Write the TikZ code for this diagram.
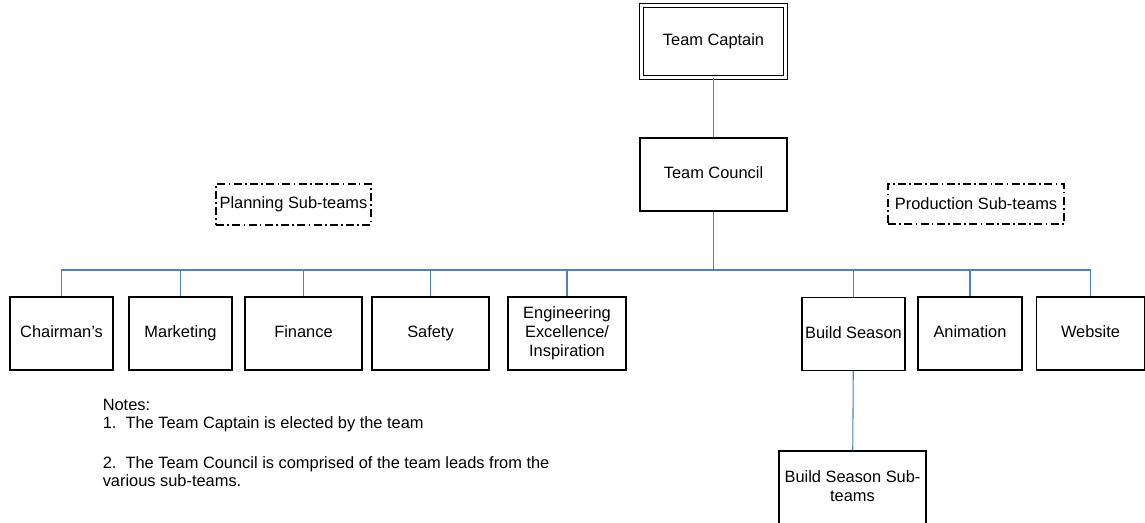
\documentclass[tikz,border=0pt]{standalone}
\usepackage{fontspec}
\setmainfont{Liberation Sans}
\usetikzlibrary{positioning}
\definecolor{linkblue}{HTML}{4F81BD}

\begin{document}
\begin{tikzpicture}[x=0.75pt, y=-0.75pt,
    box/.style={draw, rectangle, line width=0.9pt, minimum width=77.25pt, minimum height=54.75pt,
        inner sep=2pt, align=center, text depth=0.22em, font=\fontsize{12.3}{14.25}\selectfont},
    widebox/.style={box, minimum width=87.75pt},
    groupbox/.style={draw, rectangle, line width=0.8pt, dash pattern=on 6pt off 2.5pt on 1.2pt off 2.5pt,
        inner sep=2pt, font=\fontsize{12.3}{14.25}\selectfont},
    link/.style={draw=linkblue, line width=0.8pt}]
    \useasboundingbox (0,0) rectangle (1145,522);
    % top of the tree
    \node[box, double, line width=0.75pt, double distance=1.6pt, minimum width=108pt, minimum height=54pt] (captain) at (713.5,41.5) {Team Captain};
    \node[box, minimum width=110.25pt] (council) at (713.5,174.5) {Team Council};
    % group labels
    \node[groupbox, minimum width=116.25pt, minimum height=30.75pt] (planning) at (293.5,204.5) {Planning Sub-teams};
    \node[groupbox, minimum width=132pt, minimum height=30pt] (production) at (976,204) {Production Sub-teams};
    % sub-teams
    \node[box] (chair) at (61.5,333.5) {Chairman’s};
    \node[box] (market) at (180.5,333.5) {Marketing};
    \node[widebox] (finance) at (303.5,333.5) {Finance};
    \node[widebox] (safety) at (430.5,333.5) {Safety};
    \node[widebox, minimum width=88.5pt] (eng) at (567,333.5) {Engineering\\Excellence/\\Inspiration};
    \node[box] (build) at (853.5,334) {Build Season};
    \node[box, minimum width=78pt] (anim) at (970,333.5) {Animation};
    \node[box, minimum width=81pt] (web) at (1090.5,333.5) {Website};
    \node[box, minimum width=110.25pt, minimum height=55.5pt] (buildsub) at (852.5,488) {Build Season Sub-\\teams};
    % notes
    \node[anchor=base west, inner sep=0pt, align=left, font=\fontsize{12.3}{13.5}\selectfont] (notes) at (102.5,486.7)
        {Notes:\\1.\ \ The Team Captain is elected by the team\\[17pt]2.\ \ The Team Council is comprised of the team leads from the\\various sub-teams.};
    % connectors
    \coordinate (bus) at (713.5,270);
    \draw[link] (captain) -- (council);
    \draw[link] (council) -- (bus);
    \foreach \n in {chair,market,finance,safety,eng,build,anim,web}
        \draw[link] (bus) -| (\n.north);
    \draw[link] (build) -- (buildsub);
\end{tikzpicture}
\end{document}
